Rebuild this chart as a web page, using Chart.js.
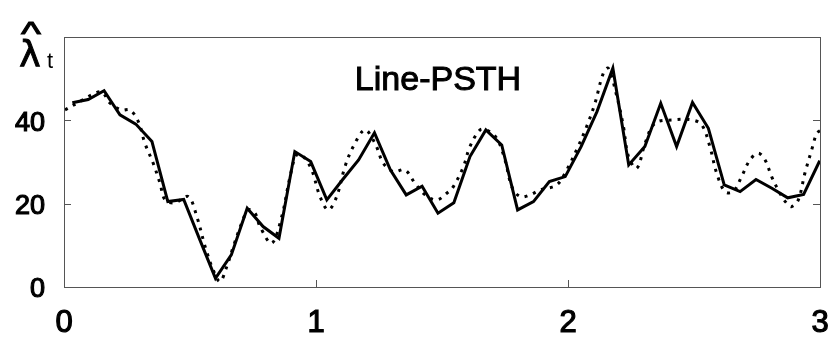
<!DOCTYPE html>
<html>
<head>
<meta charset="utf-8">
<script src="https://cdn.jsdelivr.net/npm/chart.js@4"></script>
<style>
  body { margin: 0; background: #fff; }
  #wrap { width: 831px; height: 337px; }
</style>
</head>
<body>
<div id="wrap"><canvas id="psthChart" width="831" height="337"></canvas></div>
<script>
// Line-PSTH estimate (solid), sampled once per bin
const binTimes = [0.033, 0.096, 0.159, 0.222, 0.285, 0.349, 0.412, 0.475, 0.538, 0.601,
  0.664, 0.727, 0.790, 0.853, 0.916, 0.979, 1.043, 1.106, 1.169, 1.232,
  1.295, 1.358, 1.421, 1.484, 1.547, 1.611, 1.674, 1.737, 1.800, 1.863,
  1.926, 1.989, 2.052, 2.115, 2.178, 2.241, 2.305, 2.368, 2.431, 2.494,
  2.557, 2.620, 2.683, 2.746, 2.809, 2.872, 2.935, 2.999];
const psthRate = [44.2, 45.0, 47.1, 41.3, 39.1, 34.9, 20.5, 21.0, 11.5, 2.1,
  7.7, 18.9, 14.5, 11.7, 32.5, 30.1, 20.9, 25.8, 30.5, 37.0,
  28.1, 22.1, 24.2, 17.7, 20.2, 31.3, 37.7, 34.1, 18.5, 20.5,
  25.3, 26.5, 33.7, 42.1, 52.5, 29.3, 33.7, 44.1, 33.7, 44.3,
  38.1, 24.5, 22.9, 25.8, 23.7, 21.4, 22.2, 30.3];

// true rate (dotted)
const trueTimes = [0.004, 0.063, 0.116, 0.151, 0.183, 0.229, 0.262, 0.295, 0.321, 0.354,
  0.381, 0.401, 0.440, 0.493, 0.527, 0.560, 0.592, 0.619, 0.646, 0.672,
  0.705, 0.731, 0.758, 0.778, 0.824, 0.864, 0.897, 0.923, 0.950, 0.983,
  1.016, 1.049, 1.082, 1.115, 1.148, 1.194, 1.234, 1.267, 1.307, 1.353,
  1.393, 1.433, 1.479, 1.519, 1.545, 1.585, 1.611, 1.651, 1.677, 1.717,
  1.750, 1.777, 1.810, 1.849, 1.889, 1.955, 1.995, 2.034, 2.074, 2.107,
  2.140, 2.160, 2.194, 2.220, 2.240, 2.273, 2.306, 2.345, 2.418, 2.491,
  2.531, 2.563, 2.590, 2.623, 2.656, 2.689, 2.722, 2.755, 2.782, 2.808,
  2.841, 2.868, 2.888, 2.914, 2.940, 2.967, 2.987, 3.000];
const trueRate = [42.5, 44.5, 46.3, 46.8, 44.1, 42.5, 42.5, 39.7, 34.5, 29.7,
  24.9, 20.9, 20.2, 21.7, 16.9, 9.7, 4.1, 1.3, 4.9, 9.7,
  15.3, 18.5, 17.7, 14.5, 10.5, 16.9, 26.5, 31.7, 31.3, 28.1,
  21.7, 18.5, 21.7, 28.9, 33.7, 37.7, 34.5, 29.7, 27.7, 28.1,
  24.9, 22.1, 20.9, 22.5, 24.1, 28.9, 33.7, 37.7, 37.7, 35.7,
  30.5, 24.1, 21.7, 22.1, 23.3, 24.5, 28.1, 32.9, 38.5, 44.1,
  51.3, 52.5, 45.7, 38.5, 31.3, 28.5, 34.5, 39.3, 40.1, 40.1,
  38.9, 33.7, 27.3, 22.9, 22.9, 26.5, 30.5, 32.1, 30.5, 26.5,
  22.5, 20.1, 19.3, 20.9, 27.3, 32.9, 36.9, 37.5];

const xTicks = [0, 1, 2, 3];
const yTicks = [0, 20, 40];
const xRange = [0, 3];
const yRange = [0, 60];

function toPoints(xs, ys) {
    return xs.map((x, i) => ({ x: x, y: ys[i] }));
}

// frame, inward ticks, title and axis symbol
const framePlugin = {
    id: 'frame',
    afterDraw(chart) {
        const ctx = chart.ctx;
        const a = chart.chartArea;
        const xs = chart.scales.x;
        const ys = chart.scales.y;
        ctx.save();
        ctx.strokeStyle = '#555';
        ctx.lineWidth = 1;
        ctx.strokeRect(a.left + 0.5, a.top + 0.5, a.right - a.left, a.bottom - a.top);
        ctx.beginPath();
        yTicks.forEach(v => {
            const py = Math.round(ys.getPixelForValue(v)) + 0.5;
            ctx.moveTo(a.left, py); ctx.lineTo(a.left + 7, py);
            ctx.moveTo(a.right, py); ctx.lineTo(a.right - 7, py);
        });
        xTicks.forEach(v => {
            const px = Math.round(xs.getPixelForValue(v)) + 0.5;
            ctx.moveTo(px, a.bottom); ctx.lineTo(px, a.bottom - 7);
        });
        ctx.stroke();

        ctx.fillStyle = '#000';
        ctx.strokeStyle = '#000';
        ctx.textAlign = 'center';
        ctx.textBaseline = 'alphabetic';
        ctx.font = '34px "Liberation Sans", Arial, sans-serif';
        ctx.lineWidth = 1;
        ctx.strokeText('Line-PSTH', 438, 90);
        ctx.fillText('Line-PSTH', 438, 90);

        // lambda hat sub t
        ctx.font = '36px "DejaVu Sans", sans-serif';
        ctx.strokeText('λ', 30, 66);
        ctx.fillText('λ', 30, 66);
        ctx.font = '34px "Liberation Sans", Arial, sans-serif';
        ctx.save();
        ctx.translate(31, 45);
        ctx.scale(1.25, 1);
        ctx.strokeText('^', 0, 0);
        ctx.fillText('^', 0, 0);
        ctx.restore();
        ctx.font = '22px "Liberation Sans", Arial, sans-serif';
        ctx.fillText('t', 50, 68);
        ctx.restore();
    }
};

const tickFont = { family: '"Liberation Sans", Arial, sans-serif' };

const ctx = document.getElementById('psthChart').getContext('2d');
new Chart(ctx, {
    type: 'line',
    data: {
        datasets: [
            {
                label: 'estimate',
                data: toPoints(binTimes, psthRate),
                borderColor: '#000',
                borderWidth: 3,
                tension: 0,
                pointRadius: 0,
                order: 1
            },
            {
                label: 'true rate',
                data: toPoints(trueTimes, trueRate),
                borderColor: '#000',
                borderWidth: 3,
                borderDash: [3, 6],
                tension: 0.35,
                pointRadius: 0,
                order: 2
            }
        ]
    },
    options: {
        responsive: false,
        animation: false,
        layout: { padding: { top: 37, right: 11, left: 0, bottom: 0 } },
        plugins: {
            legend: { display: false },
            tooltip: { enabled: false }
        },
        scales: {
            x: {
                type: 'linear',
                min: xRange[0],
                max: xRange[1],
                afterFit: s => { s.height = 50; s.paddingLeft = 0; s.paddingRight = 0; },
                afterBuildTicks: s => { s.ticks = xTicks.map(v => ({ value: v })); },
                grid: { display: false, drawTicks: false },
                border: { display: false },
                ticks: {
                    color: '#000',
                    padding: 18,
                    maxRotation: 0,
                    textStrokeColor: '#000',
                    textStrokeWidth: 1.2,
                    font: { ...tickFont, size: 31 }
                }
            },
            y: {
                min: yRange[0],
                max: yRange[1],
                afterFit: s => { s.width = 64; s.paddingTop = 0; s.paddingBottom = 0; },
                afterBuildTicks: s => { s.ticks = yTicks.map(v => ({ value: v })); },
                grid: { display: false, drawTicks: false },
                border: { display: false },
                ticks: {
                    color: '#000',
                    padding: 19,
                    labelOffset: 3,
                    textStrokeColor: '#000',
                    textStrokeWidth: 1.2,
                    font: { ...tickFont, size: 27 }
                }
            }
        }
    },
    plugins: [framePlugin]
});
</script>
</body>
</html>
